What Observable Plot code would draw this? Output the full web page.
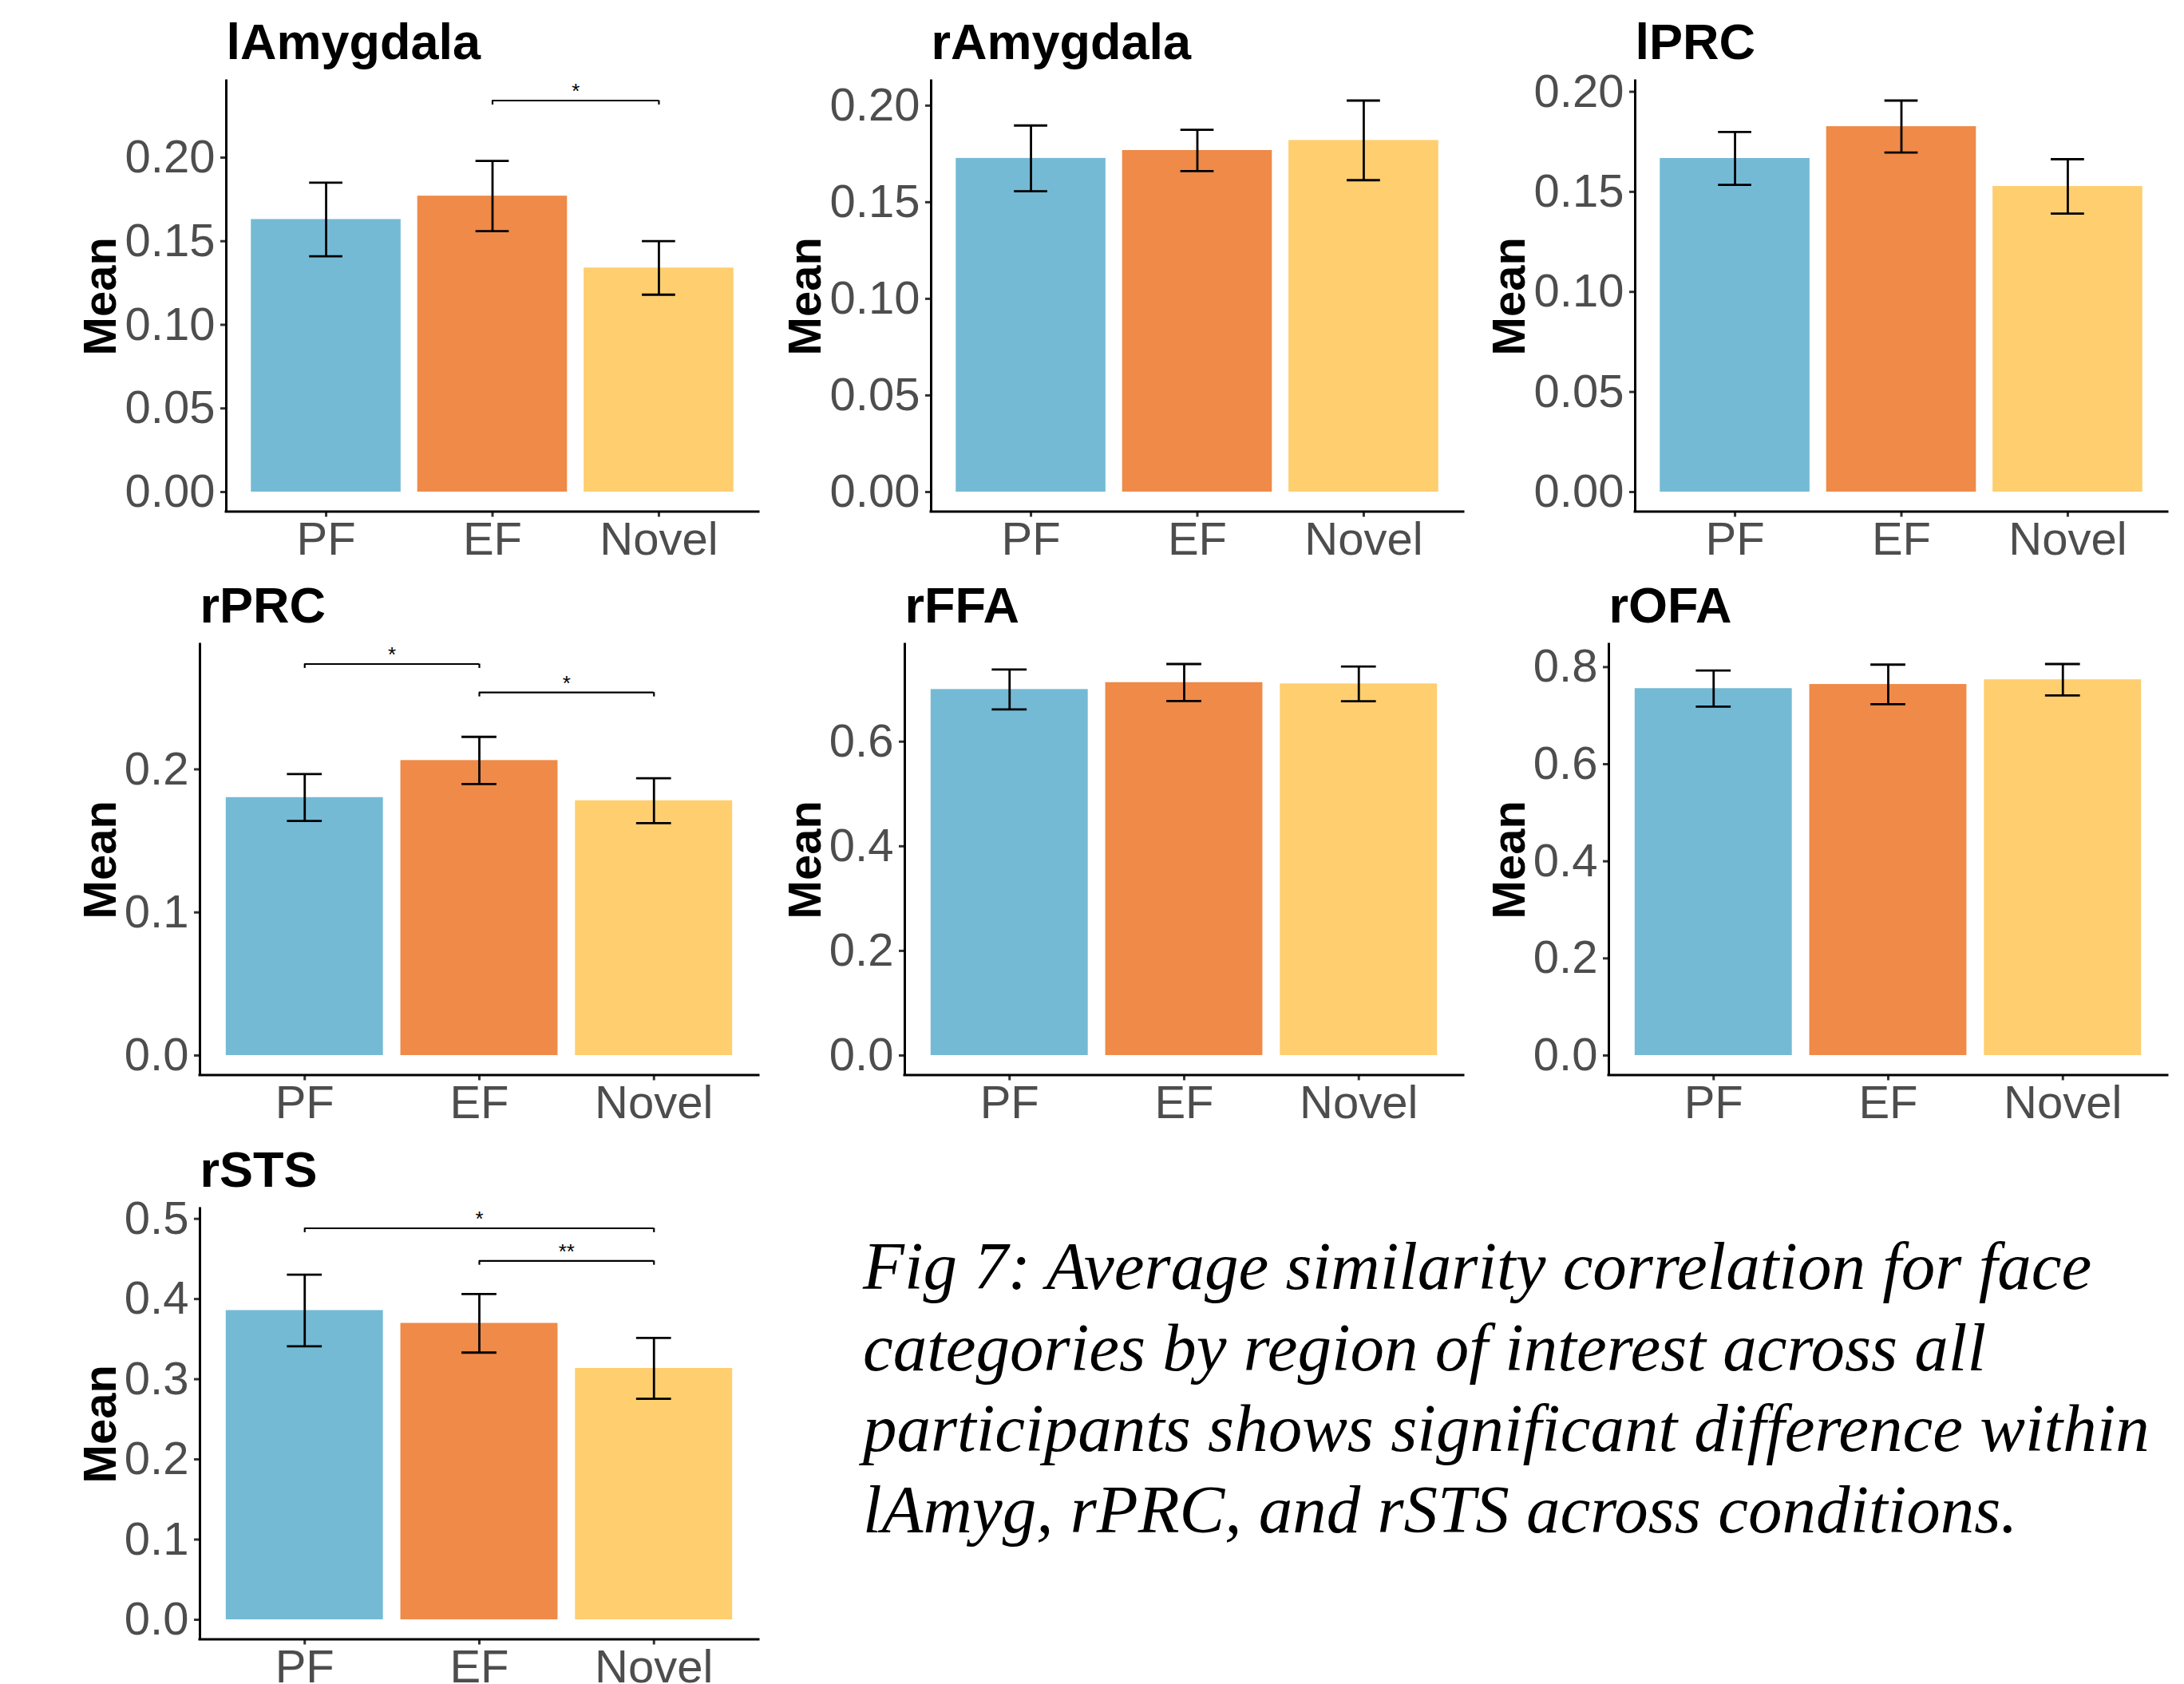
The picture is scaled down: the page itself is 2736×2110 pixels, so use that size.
<!DOCTYPE html>
<html>
<head>
<meta charset="utf-8">
<script src="https://cdn.jsdelivr.net/npm/d3@7"></script>
<script src="https://cdn.jsdelivr.net/npm/@observablehq/plot@0.6"></script>
<style>
  html, body { margin: 0; padding: 0; background: #fff; }
  body { width: 2736px; height: 2110px; overflow: hidden; position: relative; }
  .panel { position: absolute; }
  .panel svg { overflow: visible; display: block; }
  #caption { position: absolute; left: 1081px; top: 1536px; font-family: "Liberation Serif", "Times New Roman", serif;
             font-style: italic; font-size: 85px; line-height: 101.5px; color: #000; white-space: nowrap; }
</style>
</head>
<body>
<div id="caption"></div>
<script>
// ---------- data ----------
const conditions = ["PF", "EF", "Novel"];
const conditionColors = ["#74BAD5", "#EF8A48", "#FECE6F"];

const regions = ["lAmygdala", "rAmygdala", "lPRC", "rPRC", "rFFA", "rOFA", "rSTS"];

const mean_lAmygdala = [0.163, 0.177, 0.134];
const se_lAmygdala   = [0.022, 0.021, 0.016];
const mean_rAmygdala = [0.1727, 0.1768, 0.1820];
const se_rAmygdala   = [0.0170, 0.0107, 0.0206];
const mean_lPRC      = [0.1667, 0.1826, 0.1527];
const se_lPRC        = [0.0132, 0.0130, 0.0136];
const mean_rPRC      = [0.1803, 0.2062, 0.1781];
const se_rPRC        = [0.0164, 0.0165, 0.0157];
const mean_rFFA      = [0.6998, 0.7130, 0.7105];
const se_rFFA        = [0.0382, 0.0354, 0.0331];
const mean_rOFA      = [0.7558, 0.7643, 0.7740];
const se_rOFA        = [0.0371, 0.0408, 0.0323];
const mean_rSTS      = [0.3857, 0.3697, 0.3135];
const se_rSTS        = [0.0447, 0.0365, 0.0380];

// significance brackets: from/to are condition positions (1 = PF, 2 = EF, 3 = Novel)
const sig_lAmygdala = [{from: 2, to: 3, y: 0.2341, label: "*"}];
const sig_rPRC      = [{from: 1, to: 2, y: 0.2736, label: "*"}, {from: 2, to: 3, y: 0.2537, label: "*"}];
const sig_rSTS      = [{from: 1, to: 3, y: 0.4882, label: "*"}, {from: 2, to: 3, y: 0.4476, label: "**"}];

// y tick values
const ticks_amyg = [0, 0.05, 0.10, 0.15, 0.20];
const ticks_rPRC = [0, 0.1, 0.2];
const ticks_rFFA = [0, 0.2, 0.4, 0.6];
const ticks_rOFA = [0, 0.2, 0.4, 0.6, 0.8];
const ticks_rSTS = [0, 0.1, 0.2, 0.3, 0.4, 0.5];
const tickDigits = [2, 2, 2, 1, 1, 1, 1];

const captionLines = [
  "Fig 7: Average similarity correlation for face",
  "categories by region of interest across all",
  "participants shows significant difference within",
  "lAmyg, rPRC, and rSTS across conditions."
];

// ---------- assemble ----------
const panels = [
  {mean: mean_lAmygdala, se: se_lAmygdala, ticks: ticks_amyg, sig: sig_lAmygdala},
  {mean: mean_rAmygdala, se: se_rAmygdala, ticks: ticks_amyg, sig: []},
  {mean: mean_lPRC,      se: se_lPRC,      ticks: ticks_amyg, sig: []},
  {mean: mean_rPRC,      se: se_rPRC,      ticks: ticks_rPRC, sig: sig_rPRC},
  {mean: mean_rFFA,      se: se_rFFA,      ticks: ticks_rFFA, sig: []},
  {mean: mean_rOFA,      se: se_rOFA,      ticks: ticks_rOFA, sig: []},
  {mean: mean_rSTS,      se: se_rSTS,      ticks: ticks_rSTS, sig: sig_rSTS}
].map((p, k) => ({...p, name: regions[k], digits: tickDigits[k]}));

// layout
const colLeft = [66, 948.5, 1831];
const rowAxisTop = [100.5, 807.3, 1514.1];
const W = 900, MR = 16, MT = 100, PLOT_H = 539.5, MB = 62.5;
const font = "'Liberation Sans', Arial, Helvetica, sans-serif";
const LW = 3;

panels.forEach((p, k) => {
  const col = k % 3, row = Math.floor(k / 3);
  const rows = conditions.map((c, i) => ({
    cond: c, i: i + 1, mean: p.mean[i], lo: p.mean[i] - p.se[i], hi: p.mean[i] + p.se[i]
  }));
  const top = d3.max([...rows.map(r => r.hi), ...p.sig.map(b => b.y)]);
  const yDomain = [-0.05 * top, 1.05 * top];
  const tip = 0.01 * (yDomain[1] - yDomain[0]);
  const ml = p.digits === 2 ? 217 : 184;

  const svg = Plot.plot({
    width: W, height: MT + PLOT_H + MB,
    marginLeft: ml, marginRight: MR, marginTop: MT, marginBottom: MB,
    x: {domain: [0.4, 3.6], axis: null},
    y: {domain: yDomain, axis: null},
    color: {domain: conditions, range: conditionColors},
    style: {fontFamily: font, background: "transparent", overflow: "visible"},
    marks: [
      Plot.rect(rows, {x1: d => d.i - 0.45, x2: d => d.i + 0.45, y1: () => 0, y2: "mean", fill: "cond"}),
      Plot.ruleX(rows, {x: "i", y1: "lo", y2: "hi", stroke: "#000", strokeWidth: 2.8}),
      Plot.ruleY(rows, {y: "hi", x1: d => d.i - 0.1, x2: d => d.i + 0.1, stroke: "#000", strokeWidth: 2.8}),
      Plot.ruleY(rows, {y: "lo", x1: d => d.i - 0.1, x2: d => d.i + 0.1, stroke: "#000", strokeWidth: 2.8}),
      Plot.ruleY(p.sig, {y: "y", x1: "from", x2: "to", stroke: "#000", strokeWidth: 2.2}),
      Plot.ruleX(p.sig, {x: "from", y1: d => d.y - tip, y2: "y", stroke: "#000", strokeWidth: 2.2}),
      Plot.ruleX(p.sig, {x: "to", y1: d => d.y - tip, y2: "y", stroke: "#000", strokeWidth: 2.2}),
      Plot.text(p.sig, {x: d => (d.from + d.to) / 2, y: "y", text: "label", lineAnchor: "bottom",
                        dy: -3, fontSize: 26, fill: "#000"}),
      Plot.axisY({ticks: p.ticks, tickFormat: d3.format(`.${p.digits}f`), tickSize: 7, tickPadding: 7,
                  fontSize: 58, fill: "#4d4d4d", stroke: "#333", strokeWidth: LW, label: null}),
      Plot.axisX({ticks: [1, 2, 3], tickFormat: i => conditions[i - 1], tickSize: 7, tickPadding: 6,
                  fontSize: 58, fill: "#4d4d4d", stroke: "#333", strokeWidth: LW, label: null}),
      Plot.ruleY([yDomain[0]], {stroke: "#000", strokeWidth: LW, strokeLinecap: "square"}),
      Plot.ruleX([0.4], {stroke: "#000", strokeWidth: LW, strokeLinecap: "square"}),
      Plot.text([p.name], {text: d => d, frameAnchor: "top-left", dy: -28, lineAnchor: "bottom",
                           textAnchor: "start", fontSize: 63, fontWeight: "bold", fill: "#000"}),
      Plot.text(["Mean"], {text: d => d, frameAnchor: "left", dx: 78 - ml, rotate: -90,
                           lineAnchor: "bottom", textAnchor: "middle", fontSize: 58, fontWeight: "bold", fill: "#000"})
    ]
  });
  const div = document.createElement("div");
  div.className = "panel";
  div.style.left = colLeft[col] + "px";
  div.style.top = (rowAxisTop[row] - MT) + "px";
  div.appendChild(svg);
  document.body.appendChild(div);
});

const cap = document.getElementById("caption");
captionLines.forEach(t => {
  const d = document.createElement("div");
  d.textContent = t;
  cap.appendChild(d);
});
</script>
</body>
</html>
